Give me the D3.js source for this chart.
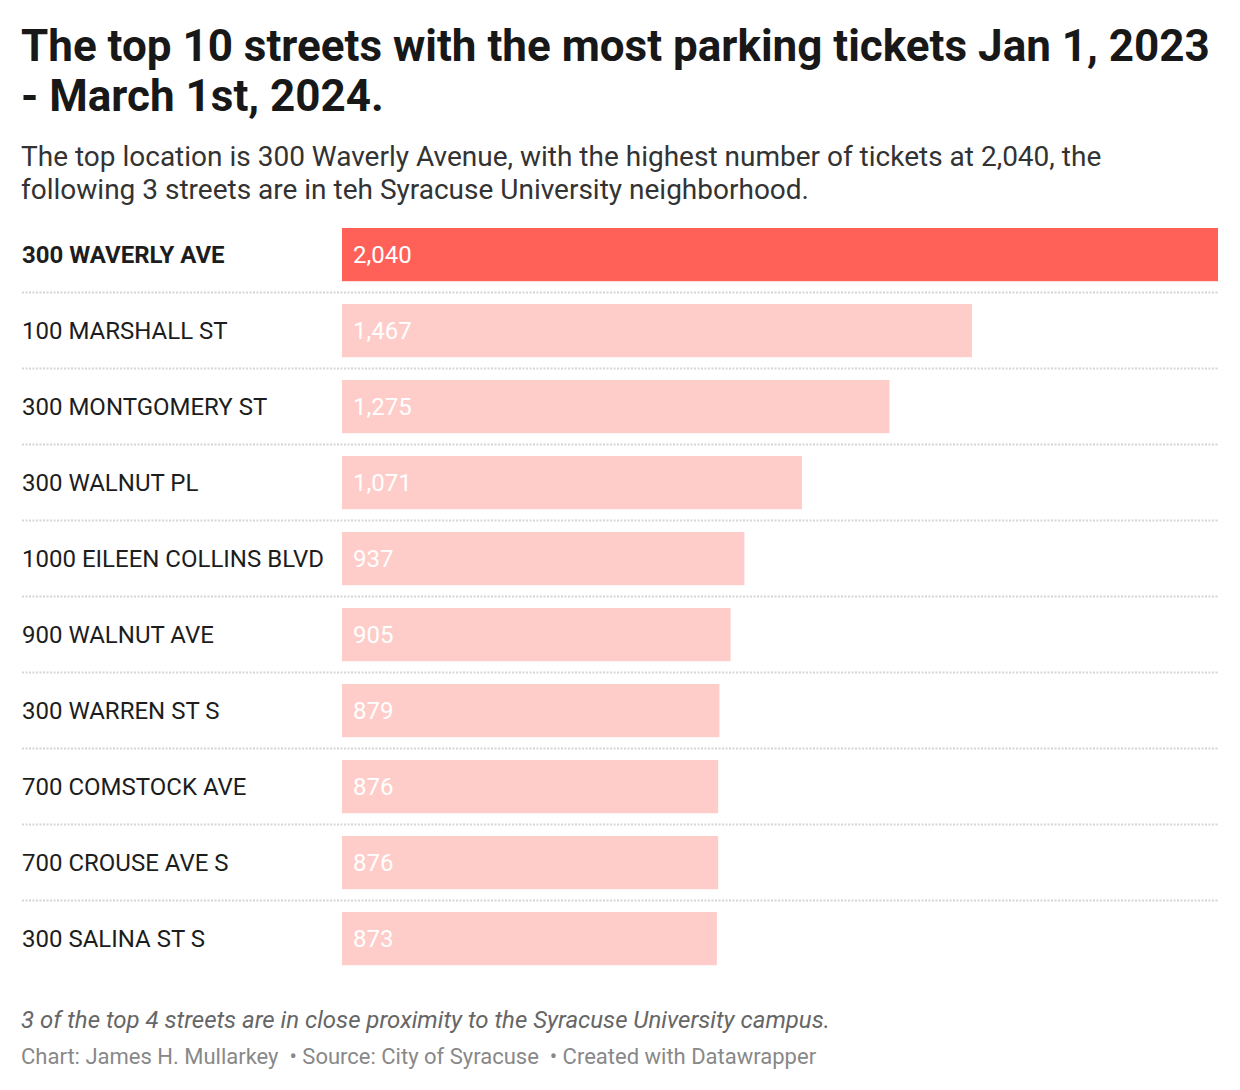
<!DOCTYPE html>
<html><head><meta charset="utf-8">
<script src="https://cdn.jsdelivr.net/npm/d3@7"></script>
<style>
body{margin:0;background:#fff;font-family:Roboto,"Noto Sans",sans-serif;}
</style></head>
<body><svg id="c" width="1240" height="1090"></svg>
<script>
const streets = ["300 WAVERLY AVE","100 MARSHALL ST","300 MONTGOMERY ST","300 WALNUT PL","1000 EILEEN COLLINS BLVD","900 WALNUT AVE","300 WARREN ST S","700 COMSTOCK AVE","700 CROUSE AVE S","300 SALINA ST S"];
const tickets = [2040,1467,1275,1071,937,905,879,876,876,873];
const titleLines = ["The top 10 streets with the most parking tickets Jan 1, 2023","- March 1st, 2024."];
const subtitleLines = ["The top location is 300 Waverly Avenue, with the highest number of tickets at 2,040, the","following 3 streets are in teh Syracuse University neighborhood."];
const note = "3 of the top 4 streets are in close proximity to the Syracuse University campus.";
const credits = ["Chart: James H. Mullarkey","Source: City of Syracuse","Created with Datawrapper"];

const svg = d3.select("#c");
const left = 22, barX0 = 342, barX1 = 1218;
const x = d3.scaleLinear().domain([0, d3.max(tickets)]).range([barX0, barX1]);
const y = d3.scaleBand().domain(streets).range([216.6, 976.6]).paddingInner(0.3).paddingOuter(0.15);

svg.selectAll("text.title").data(titleLines).join("text")
  .attr("x", 21).attr("y",(d,i)=>61+i*50)
  .attr("font-size",44).attr("font-weight",700).attr("fill","#181818").text(d=>d);
svg.selectAll("text.sub").data(subtitleLines).join("text")
  .attr("x", 21).attr("y",(d,i)=>166+i*33)
  .attr("font-size",28).attr("fill","#333").text(d=>d);

const rows = svg.append("g");
const step = y.step();
rows.selectAll("line.sep").data(streets.slice(0,-1)).join("line")
  .attr("x1", left).attr("x2", barX1)
  .attr("y1", d=>y(d)+y.bandwidth()+step*0.3/2)
  .attr("y2", d=>y(d)+y.bandwidth()+step*0.3/2)
  .attr("stroke","#d6d6d6").attr("stroke-width",2).attr("stroke-dasharray","2,1.5");

rows.selectAll("rect").data(streets).join("rect")
  .attr("x", x(0)).attr("y", d=>y(d))
  .attr("width",(d,i)=>x(tickets[i])-x(0)).attr("height", y.bandwidth())
  .attr("fill",(d,i)=>i===0?"#ff6159":"#fecdc9");

rows.selectAll("text.lab").data(streets).join("text")
  .attr("x", left).attr("y", d=>y(d)+y.bandwidth()/2).attr("dy","0.35em")
  .attr("font-size",24).attr("font-weight",(d,i)=>i===0?700:400).attr("fill","#1d1d1d").text(d=>d);

const fmt = d3.format(",");
rows.selectAll("text.val").data(streets).join("text")
  .attr("x", x(0)+11).attr("y", d=>y(d)+y.bandwidth()/2).attr("dy","0.35em")
  .attr("font-size",24).attr("fill","#fff").text((d,i)=>fmt(tickets[i]));

svg.append("text").attr("x",21).attr("y",1028).attr("font-size",24).attr("font-style","italic")
  .attr("fill","#666").text(note);
svg.append("text").attr("x",21).attr("y",1064).attr("font-size",22).attr("fill","#888")
  .style("white-space","pre")
  .text(credits[0]+"  • "+credits[1]+"  • "+credits[2]);
</script></body></html>
